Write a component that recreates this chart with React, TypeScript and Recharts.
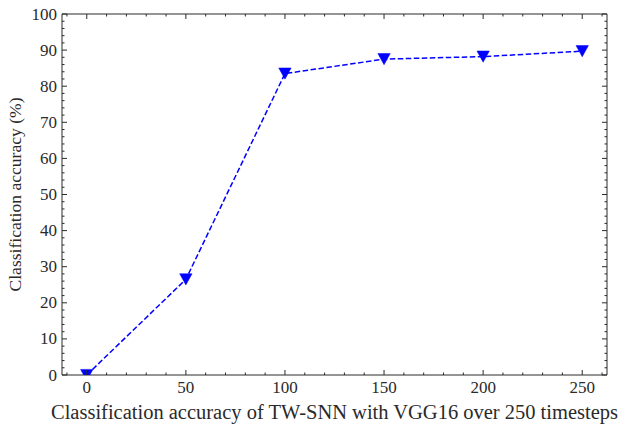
import React from "react";
import { LineChart, Line, XAxis, YAxis } from "recharts";

const timesteps = [0, 50, 100, 150, 200, 250];
const accuracy = [0, 26.5, 83.5, 87.5, 88.2, 89.7];
const xMajor = [0, 50, 100, 150, 200, 250];
const yMajor = [0, 10, 20, 30, 40, 50, 60, 70, 80, 90, 100];
const xTitle = "Classification accuracy of TW-SNN with VGG16 over 250 timesteps";
const yTitle = "Classification accuracy (%)";

const data = timesteps.map((t, i) => ({ t, acc: accuracy[i] }));

const xTicksAll: number[] = [];
for (let v = -10; v <= 260; v += 10) xTicksAll.push(v);
const yTicksAll: number[] = [];
for (let v = 0; v <= 100; v += 2) yTicksAll.push(v);

const FONT = "'Liberation Serif', 'DejaVu Serif', serif";
const INK = "#2a2a2a";
const MAJ = 5;
const MIN = 2.5;

const makeXTick = (dir: number, labels: boolean) => (props: any) => {
  const { x, y, payload } = props;
  const v = payload.value;
  const major = xMajor.includes(v);
  const len = major ? MAJ : MIN;
  return (
    <g>
      <line x1={x} x2={x} y1={y} y2={y + dir * len} stroke={INK} strokeWidth={1} />
      {labels && major ? (
        <text x={x} y={y + 18} textAnchor="middle" fontFamily={FONT} fontSize={17} fill={INK}>
          {v}
        </text>
      ) : null}
    </g>
  );
};

const makeYTick = (dir: number, labels: boolean) => (props: any) => {
  const { x, y, payload } = props;
  const v = payload.value;
  const major = yMajor.includes(v);
  const len = major ? MAJ : MIN;
  return (
    <g>
      <line x1={x} x2={x + dir * len} y1={y} y2={y} stroke={INK} strokeWidth={1} />
      {labels && major ? (
        <text x={x - 5} y={y + 5.5} textAnchor="end" fontFamily={FONT} fontSize={17} fill={INK}>
          {v}
        </text>
      ) : null}
    </g>
  );
};

const TriangleDown = (props: any) => {
  const { cx, cy } = props;
  if (cx == null || cy == null) return null;
  const w = 6.2;
  const h = 5.6;
  return (
    <path
      d={`M${cx - w},${cy - h} L${cx + w},${cy - h} L${cx},${cy + h} Z`}
      fill="#0000ff"
      stroke="#0000ff"
      strokeWidth={0.5}
    />
  );
};

export default function App() {
  return (
    <div style={{ position: "absolute", left: 0, top: 0, width: 621, height: 424, background: "#fff" }}>
      <LineChart width={621} height={424} data={data} margin={{ top: 13, right: 13, bottom: 48, left: 61 }}>
        <XAxis
          xAxisId="b"
          dataKey="t"
          type="number"
          orientation="bottom"
          domain={[-12.5, 262.5]}
          ticks={xTicksAll}
          interval={0}
          height={1}
          tickSize={0}
          tickMargin={0}
          tickLine={false}
          axisLine={{ stroke: INK, strokeWidth: 1 }}
          tick={makeXTick(-1, true)}
          allowDataOverflow
          label={{
            content: (p: any) => {
              const vb = p.viewBox;
              return (
                <text
                  x={vb.x + vb.width / 2}
                  y={419}
                  textAnchor="middle"
                  fontFamily={FONT}
                  fontSize={20}
                  textLength={567}
                  lengthAdjust="spacingAndGlyphs"
                  fill={INK}
                >
                  {xTitle}
                </text>
              );
            },
          }}
        />
        <XAxis
          xAxisId="t"
          dataKey="t"
          type="number"
          orientation="top"
          domain={[-12.5, 262.5]}
          ticks={xTicksAll}
          interval={0}
          height={1}
          tickSize={0}
          tickMargin={0}
          tickLine={false}
          axisLine={{ stroke: INK, strokeWidth: 1 }}
          tick={makeXTick(1, false)}
          allowDataOverflow
        />
        <YAxis
          yAxisId="l"
          type="number"
          orientation="left"
          domain={[0, 100]}
          ticks={yTicksAll}
          interval={0}
          width={1}
          tickSize={0}
          tickMargin={0}
          tickLine={false}
          axisLine={{ stroke: INK, strokeWidth: 1 }}
          tick={makeYTick(1, true)}
          allowDataOverflow
          label={{
            content: (p: any) => {
              const vb = p.viewBox;
              const cy = vb.y + vb.height / 2;
              return (
                <text
                  x={21}
                  y={cy}
                  transform={`rotate(-90, 21, ${cy})`}
                  textAnchor="middle"
                  fontFamily={FONT}
                  fontSize={17}
                  textLength={194}
                  lengthAdjust="spacingAndGlyphs"
                  fill={INK}
                >
                  {yTitle}
                </text>
              );
            },
          }}
        />
        <YAxis
          yAxisId="r"
          type="number"
          orientation="right"
          domain={[0, 100]}
          ticks={yTicksAll}
          interval={0}
          width={1}
          tickSize={0}
          tickMargin={0}
          tickLine={false}
          axisLine={{ stroke: INK, strokeWidth: 1 }}
          tick={makeYTick(-1, false)}
          allowDataOverflow
        />
        <Line
          xAxisId="b"
          yAxisId="l"
          type="linear"
          dataKey="acc"
          stroke="#0000ff"
          strokeWidth={1.5}
          strokeDasharray="5.5 2.5"
          dot={<TriangleDown />}
          activeDot={false}
          isAnimationActive={false}
        />
      </LineChart>
    </div>
  );
}
